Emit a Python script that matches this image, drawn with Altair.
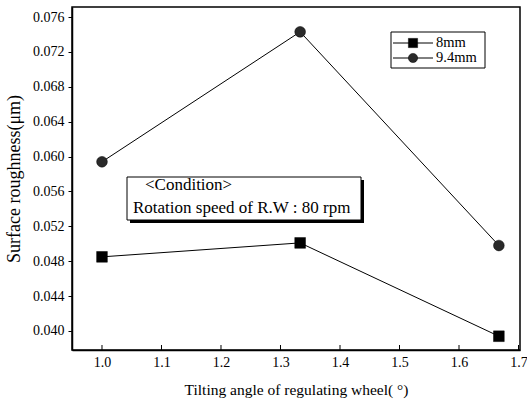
import altair as alt
import pandas as pd

angles = [1.0, 1.333, 1.667]
rough_8mm = [0.0485, 0.0501, 0.0394]
rough_94mm = [0.0594, 0.0743, 0.0498]
series_names = ["8mm", "9.4mm"]
x_ticks = [1.0, 1.1, 1.2, 1.3, 1.4, 1.5, 1.6, 1.7]
y_ticks = [0.040, 0.044, 0.048, 0.052, 0.056, 0.060, 0.064, 0.068, 0.072, 0.076]

df = pd.DataFrame({
    "angle": angles * 2,
    "rough": rough_8mm + rough_94mm,
    "series": [series_names[0]] * 3 + [series_names[1]] * 3,
})

W, H = 448, 343
FONT = "'Liberation Serif', 'DejaVu Serif', serif"

xs = alt.Scale(domain=[0.9496, 1.7025], nice=False, zero=False)
ys = alt.Scale(domain=[0.03782, 0.07715], nice=False, zero=False)

x_axis = alt.Axis(values=x_ticks, format=".1f", title="Tilting angle of regulating wheel( \u00b0)",
                  ticks=False, labelPadding=5, titlePadding=13, grid=False, labelOverlap=False,
                  titleFontSize=15.5)
y_axis = alt.Axis(values=y_ticks, format=".3f", title="Surface roughness(\u03bcm)",
                  tickSize=4, labelPadding=4, titlePadding=9, grid=False, labelOverlap=False,
                  titleFontSize=18)

shape_scale = alt.Scale(domain=series_names, range=["square", "circle"])
color_scale = alt.Scale(domain=series_names, range=["#000000", "#2a2a2a"])

lines = alt.Chart(df).mark_line(color="black", strokeWidth=1).encode(
    x=alt.X("angle:Q", scale=xs, axis=x_axis),
    y=alt.Y("rough:Q", scale=ys, axis=y_axis),
    detail="series:N")

points = alt.Chart(df).mark_point(filled=True, opacity=1, size=115, stroke="black", strokeWidth=0.5).encode(
    x=alt.X("angle:Q", scale=xs, axis=x_axis),
    y=alt.Y("rough:Q", scale=ys, axis=y_axis),
    shape=alt.Shape("series:N", scale=shape_scale, legend=None),
    color=alt.Color("series:N", scale=color_scale, legend=None),
)

xtick_df = pd.DataFrame({"t": x_ticks})
xticks_in = alt.Chart(xtick_df).mark_rule(color="black", strokeWidth=1).encode(
    x=alt.X("t:Q", scale=xs, axis=x_axis), y=alt.value(H), y2=alt.value(H - 5))

# legend box
leg_box = alt.Chart(pd.DataFrame({"a": [0]})).mark_rect(fill="white", stroke="black", strokeWidth=1).encode(
    x=alt.value(319), x2=alt.value(413), y=alt.value(25), y2=alt.value(61))
leg_df = pd.DataFrame({"series": series_names, "py": [36, 51]})
leg_lines = alt.Chart(leg_df).mark_rule(color="black", strokeWidth=1).encode(
    x=alt.value(321), x2=alt.value(361), y=alt.Y("py:Q", scale=None))
leg_pts = alt.Chart(leg_df).mark_point(filled=True, opacity=1, size=85, stroke="black", strokeWidth=0.5).encode(
    x=alt.value(341), y=alt.Y("py:Q", scale=None),
    shape=alt.Shape("series:N", scale=shape_scale, legend=None),
    color=alt.Color("series:N", scale=color_scale, legend=None),
)
leg_txt = alt.Chart(leg_df).mark_text(align="left", baseline="middle", font=FONT, fontSize=14.5, color="black").encode(
    x=alt.value(364), y=alt.Y("py:Q", scale=None), text="series:N")

# condition box with shadow
shadow = alt.Chart(pd.DataFrame({"a": [0]})).mark_rect(fill="black").encode(
    x=alt.value(58), x2=alt.value(292), y=alt.value(173), y2=alt.value(216))
cond_box = alt.Chart(pd.DataFrame({"a": [0]})).mark_rect(fill="white", stroke="black", strokeWidth=1).encode(
    x=alt.value(55), x2=alt.value(289), y=alt.value(170), y2=alt.value(213))
cond_df = pd.DataFrame({"txt": ["<Condition>", "Rotation speed of R.W : 80 rpm"], "px": [73, 61], "py": [178, 201]})
cond_txt = alt.Chart(cond_df).mark_text(align="left", baseline="middle", font=FONT, fontSize=17, color="black").encode(
    x=alt.X("px:Q", scale=None), y=alt.Y("py:Q", scale=None), text="txt:N")

chart = alt.layer(lines, points, xticks_in, leg_box, leg_lines, leg_pts, leg_txt,
                  shadow, cond_box, cond_txt).properties(
    width=W, height=H,
    autosize=alt.AutoSizeParams(type="none"),
    padding={"left": 72, "top": 7, "right": 7, "bottom": 54},
    background="white",
).configure_view(stroke="black", strokeWidth=1.5).configure_axis(
    labelFont=FONT, titleFont=FONT, labelFontSize=14,
    titleFontWeight="normal", labelColor="black", titleColor="black",
    domainColor="black", tickColor="black", domainWidth=1.5, labelOverlap=False,
)

chart.save("out.html", embed_options={"renderer": "svg", "actions": False})
